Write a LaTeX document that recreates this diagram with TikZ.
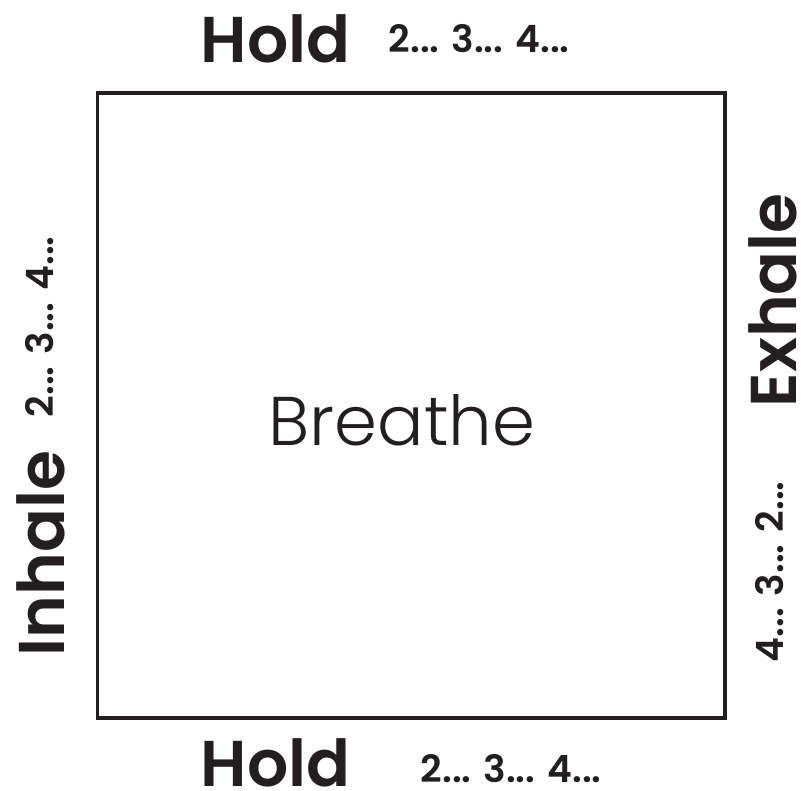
\documentclass[tikz,border=0pt]{standalone}
\usepackage{fontspec}
\setmainfont{Poppins}
\newfontfamily\headfont{Poppins SemiBold}
\newfontfamily\thinfont{Poppins Light}
\usetikzlibrary{positioning}
\definecolor{Ink}{HTML}{231F20}
\tikzset{
    phase/.style={inner sep=0pt, text=Ink, font=\headfont\fontsize{18.4}{20}\selectfont},
    count/.style={inner sep=0pt, text=Ink, font=\headfont\fontsize{10.7}{12}\selectfont},
    frame/.style={draw=Ink, line width=1.1pt},
}
\begin{document}
\begin{tikzpicture}[x=0.01cm, y=-0.01cm]
    \useasboundingbox (0,0) rectangle (801,790);
    % the square
    \draw[frame] (97.5,93) rectangle (725,718);
    \node[inner sep=0pt, text=Ink, font=\thinfont\fontsize{19.6}{22}\selectfont, anchor=base] (breathe) at (402,445) {Breathe};
    % top side
    \node[phase, anchor=base west] (holdtop) at (200,62) {Hold};
    \node[count, anchor=base west] (counttop) at (388,52) {2... 3... 4...};
    % bottom side
    \node[phase, anchor=base west] (holdbottom) at (200,786) {Hold};
    \node[count, anchor=base west] (countbottom) at (420,782) {2... 3... 4...};
    % left side
    \node[phase, rotate=90, anchor=base west] (inhale) at (64,657) {Inhale};
    \node[count, rotate=90, anchor=base west] (countleft) at (53,418) {2... 3... 4...};
    % right side
    \node[phase, rotate=90, anchor=base west] (exhale) at (796,408) {Exhale};
    \node[count, rotate=90, anchor=base west] (countright) at (783,663) {4... 3... 2...};
\end{tikzpicture}
\end{document}
